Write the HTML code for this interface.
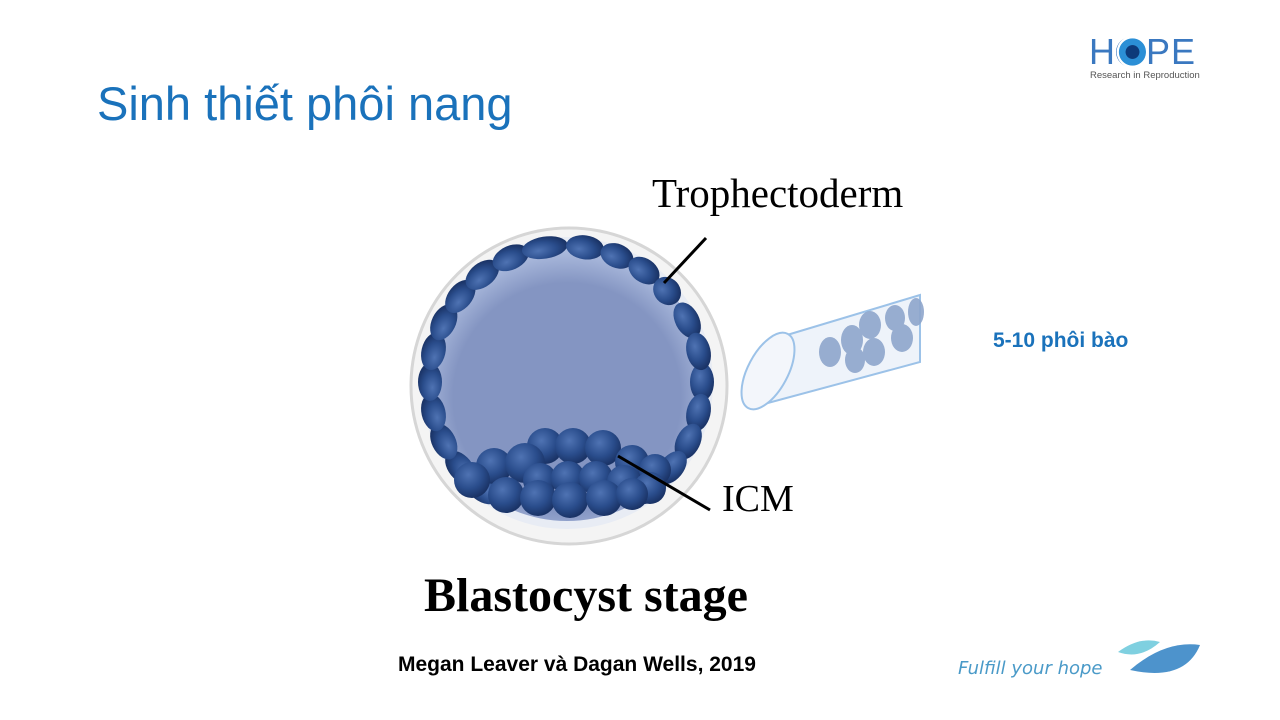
<!DOCTYPE html>
<html><head><meta charset="utf-8"><style>
html,body{margin:0;padding:0;background:#fff}
body{width:1280px;height:720px;position:relative;overflow:hidden;font-family:"Liberation Sans",sans-serif}
.t{position:absolute;white-space:nowrap}
</style></head><body>
<div class="t" style="left:97px;top:76px;font-size:47px;color:#1a72bb;">Sinh thiết phôi nang</div>
<div class="t" style="left:1089px;top:31px;font-size:36px;color:#3a78c0;letter-spacing:1px;">H<span style="display:inline-block;width:30px;height:30px;border-radius:50%;background:radial-gradient(circle at 55% 50%,#0d3a7a 0 30%,#2b8fd6 32% 60%,#fff 62% 70%,#3a78c0 72%);vertical-align:-3px"></span>PE</div>
<div class="t" style="left:1090px;top:70px;font-size:9.5px;color:#555;">Research in Reproduction</div>
<div class="t" style="left:993px;top:329px;font-size:21px;font-weight:bold;color:#1a72bb;">5-10 phôi bào</div>
<div class="t" style="left:398px;top:653px;font-size:21px;font-weight:bold;color:#000;">Megan Leaver và Dagan Wells, 2019</div>
<div class="t" style="left:958px;top:658px;color:#4a9ac8;font-family:'DejaVu Sans',sans-serif;font-style:italic;font-size:18px">Fulfill your hope</div>
<svg style="position:absolute;left:0;top:0" width="1280" height="720">
<defs>
<radialGradient id="fl" cx="50%" cy="55%" r="55%"><stop offset="0.75" stop-color="#8495c2"/><stop offset="1" stop-color="#b2c1e2"/></radialGradient>
<radialGradient id="c" cx="40%" cy="35%" r="65%"><stop offset="0" stop-color="#4f73b3"/><stop offset="0.6" stop-color="#2a4d8c"/><stop offset="1" stop-color="#1a3366"/></radialGradient>
</defs>
<path d="M1118 652 Q1140 636 1160 642 Q1140 660 1118 652Z" fill="#7fd0e0"/>
<path d="M1130 670 Q1165 640 1200 645 Q1185 682 1130 670Z" fill="#4d93cc"/>
<circle cx="569" cy="386" r="158" fill="#f4f4f4" stroke="#d6d6d6" stroke-width="3"/>
<circle cx="567" cy="383" r="146" fill="#e8ecf4"/>
<circle cx="567" cy="383" r="138" fill="url(#fl)"/>
<g transform="translate(566,382)" fill="url(#c)">
<ellipse transform="rotate(0) translate(136,0)" rx="12" ry="19"/>
<ellipse transform="rotate(13) translate(136,0)" rx="12" ry="19"/>
<ellipse transform="rotate(26) translate(136,0)" rx="12" ry="19"/>
<ellipse transform="rotate(39) translate(136,0)" rx="12" ry="19"/>
<ellipse transform="rotate(52) translate(136,0)" rx="12" ry="19"/>
<ellipse transform="rotate(128) translate(136,0)" rx="12" ry="19"/>
<ellipse transform="rotate(141) translate(136,0)" rx="12" ry="19"/>
<ellipse transform="rotate(154) translate(136,0)" rx="12" ry="19"/>
<ellipse transform="rotate(167) translate(136,0)" rx="12" ry="19"/>
<ellipse transform="rotate(180) translate(136,0)" rx="12" ry="19"/>
<ellipse transform="rotate(193) translate(136,0)" rx="12" ry="19"/>
<ellipse transform="rotate(206) translate(136,0)" rx="12" ry="19"/>
<ellipse transform="rotate(219) translate(136,0)" rx="12" ry="19"/>
<ellipse transform="rotate(232) translate(136,0)" rx="12" ry="19"/>
<ellipse transform="rotate(246) translate(136,0)" rx="12" ry="19"/>
<ellipse transform="rotate(261) translate(136,0)" rx="11" ry="23"/>
<ellipse transform="rotate(278) translate(136,0)" rx="12" ry="19"/>
<ellipse transform="rotate(292) translate(136,0)" rx="12" ry="17"/>
<ellipse transform="rotate(305) translate(136,0)" rx="12" ry="17"/>
<ellipse transform="rotate(318) translate(136,0)" rx="13" ry="15"/>
<ellipse transform="rotate(333) translate(136,0)" rx="12" ry="19"/>
<ellipse transform="rotate(347) translate(136,0)" rx="12" ry="19"/>
</g>
<g fill="url(#c)">
<circle cx="545" cy="446" r="18"/><circle cx="573" cy="446" r="18"/><circle cx="603" cy="448" r="18"/>
<circle cx="494" cy="466" r="18"/><circle cx="525" cy="463" r="20"/><circle cx="632" cy="462" r="17"/><circle cx="655" cy="470" r="16"/>
<circle cx="540" cy="480" r="17"/><circle cx="568" cy="478" r="17"/><circle cx="596" cy="478" r="17"/><circle cx="624" cy="482" r="17"/><circle cx="650" cy="488" r="16"/>
<circle cx="472" cy="480" r="18"/><circle cx="506" cy="495" r="18"/><circle cx="538" cy="498" r="18"/><circle cx="570" cy="500" r="18"/><circle cx="604" cy="498" r="18"/><circle cx="632" cy="494" r="16"/>
</g>
<line x1="618" y1="456" x2="710" y2="510" stroke="#000" stroke-width="3"/>
<line x1="664" y1="283" x2="706" y2="238" stroke="#000" stroke-width="3"/>
<path d="M787 335 L920 295 L920 362 L753 407" fill="#eef3fa" stroke="#9cc2e8" stroke-width="2"/>
<ellipse cx="768" cy="371" rx="20" ry="42" transform="rotate(28 768 371)" fill="#f3f6fb" stroke="#9cc2e8" stroke-width="2"/>
<g fill="#8ea6cc" opacity="0.9">
<ellipse cx="830" cy="352" rx="11" ry="15"/><ellipse cx="852" cy="340" rx="11" ry="15"/><ellipse cx="855" cy="360" rx="10" ry="13"/>
<ellipse cx="870" cy="325" rx="11" ry="14"/><ellipse cx="874" cy="352" rx="11" ry="14"/><ellipse cx="895" cy="318" rx="10" ry="13"/>
<ellipse cx="902" cy="338" rx="11" ry="14"/><ellipse cx="916" cy="312" rx="8" ry="14"/>
</g>
<text x="652" y="207" font-family="Liberation Serif,serif" font-size="41" fill="#000">Trophectoderm</text>
<text x="722" y="511" font-family="Liberation Serif,serif" font-size="38" fill="#000">ICM</text>
<text x="424" y="611" font-family="Liberation Serif,serif" font-size="48" font-weight="bold" fill="#000">Blastocyst stage</text>
</svg>
</body></html>
